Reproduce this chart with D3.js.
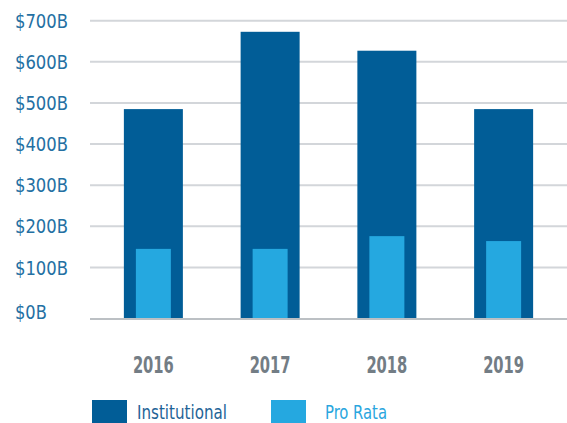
<!DOCTYPE html>
<html lang="en">
  <head>
    <meta charset="UTF-8" />
    <title>Institutional vs Pro Rata</title>
    <style>
      body { margin: 0; background: #fff; }
      svg text { font-family: "DejaVu Sans Condensed", "DejaVu Sans", sans-serif; }
      .grid line { stroke: #d3d6da; stroke-width: 2px; }
      .baseline { stroke: #bcc0c4; stroke-width: 2px; }
      .yLabel { fill: #2470a3; font-size: 20px; }
      .xLabel { fill: #737d85; font-size: 23px; font-weight: bold; }
    </style>
  </head>
  <body>
    <script src="https://cdn.jsdelivr.net/npm/d3@7"></script>
    <script>
    var years = ["2016", "2017", "2018", "2019"];
    var institutional = [485, 673, 627, 485];
    var proRata = [145, 145, 176, 164];
    var yTicks = [0, 100, 200, 300, 400, 500, 600, 700];
    var seriesNames = ["Institutional", "Pro Rata"];
    var colors = ["#015d97", "#25a8e0"];
    var legendText = ["#1f6497", "#2aa6de"];

    var w = 567, h = 423;
    var svg = d3.select("body").append("svg")
                .attr("width", w)
                .attr("height", h);

    var xScale = d3.scaleBand()
                   .domain(years)
                   .range([95, 562])
                   .paddingInner(0.5)
                   .paddingOuter(0.25);
    var yScale = d3.scaleLinear()
                   .domain([0, 700])
                   .range([308.5, 20.7]);
    var baseY = 319;

//gridlines
    svg.append("g")
       .attr("class", "grid")
       .selectAll("line")
       .data(yTicks.filter(function(d) { return d > 0; }))
       .enter().append("line")
       .attr("x1", 90)
       .attr("x2", w)
       .attr("y1", function(d) { return yScale(d); })
       .attr("y2", function(d) { return yScale(d); });

//y labels
    svg.selectAll(".yLabel")
       .data(yTicks)
       .enter().append("text")
       .attr("class", "yLabel")
       .attr("x", 15)
       .attr("y", function(d) { return d === 0 ? 311.5 : yScale(d); })
       .attr("dy", "0.36em")
       .text(function(d) { return "$" + d + "B"; })
       .attr("textLength", function(d) { return ("$" + d + "B").length * 10.6; })
       .attr("lengthAdjust", "spacingAndGlyphs");

//outer bars
    var outerW = 59, innerW = 35;
    svg.selectAll(".inst")
       .data(institutional)
       .enter().append("rect")
       .attr("class", "inst")
       .attr("fill", colors[0])
       .attr("x", function(d, i) { return xScale(years[i]) + xScale.bandwidth() / 2 - outerW / 2; })
       .attr("width", outerW)
       .attr("y", function(d) { return yScale(d); })
       .attr("height", function(d) { return baseY - yScale(d); });

//inner bars
    svg.selectAll(".pro")
       .data(proRata)
       .enter().append("rect")
       .attr("class", "pro")
       .attr("fill", colors[1])
       .attr("x", function(d, i) { return xScale(years[i]) + xScale.bandwidth() / 2 - innerW / 2; })
       .attr("width", innerW)
       .attr("y", function(d) { return yScale(d); })
       .attr("height", function(d) { return baseY - yScale(d); });

    svg.append("line")
       .attr("class", "baseline")
       .attr("x1", 90)
       .attr("x2", w)
       .attr("y1", baseY)
       .attr("y2", baseY);

//year labels
    svg.selectAll(".xLabel")
       .data(years)
       .enter().append("text")
       .attr("class", "xLabel")
       .attr("text-anchor", "middle")
       .attr("x", function(d) { return xScale(d) + xScale.bandwidth() / 2; })
       .attr("y", 372.5)
       .attr("textLength", 41)
       .attr("lengthAdjust", "spacingAndGlyphs")
       .text(function(d) { return d; });

//legend
    var legendX = [92, 271];
    var legendW = [90, 62];
    var legend = svg.selectAll(".legend")
                    .data(seriesNames)
                    .enter().append("g")
                    .attr("class", "legend")
                    .attr("transform", function(d, i) { return "translate(" + legendX[i] + ",400)"; });
    legend.append("rect")
          .attr("width", 35)
          .attr("height", 24)
          .attr("fill", function(d, i) { return colors[i]; });
    legend.append("text")
          .attr("x", function(d, i) { return i === 0 ? 45 : 54; })
          .attr("y", 19)
          .attr("font-size", "19px")
          .attr("fill", function(d, i) { return legendText[i]; })
          .attr("textLength", function(d, i) { return legendW[i]; })
          .attr("lengthAdjust", "spacingAndGlyphs")
          .text(function(d) { return d; });
    </script>
  </body>
</html>
